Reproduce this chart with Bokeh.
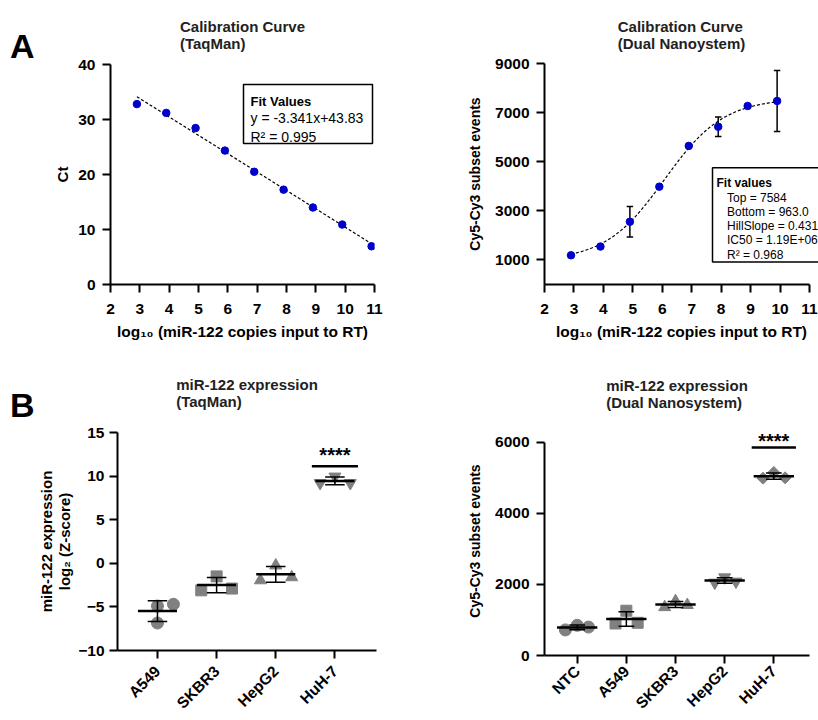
import numpy as np
from bokeh.plotting import figure
from bokeh.layouts import column, row
from bokeh.models import Label, BoxAnnotation, FixedTicker, ColumnDataSource, Title
from bokeh.embed import file_html
from bokeh.resources import INLINE

# ---------------- data ----------------
# Panel A (left): TaqMan calibration
taq_log_copies = [2.9, 3.9, 4.9, 5.9, 6.9, 7.9, 8.9, 9.9, 10.9]
taq_ct = [32.8, 31.2, 28.45, 24.35, 20.5, 17.25, 14.0, 10.9, 6.95]
taq_fit_slope = -3.341
taq_fit_intercept = 43.83
taq_fit_r2 = 0.995

# Panel A (right): Dual nanosystem calibration
nano_log_copies = [2.9, 3.9, 4.9, 5.9, 6.9, 7.9, 8.9, 9.9]
nano_events = [1190, 1545, 2555, 3985, 5645, 6425, 7270, 7475]
nano_sd = [0, 0, 620, 0, 0, 395, 0, 1245]
nano_fit_top = 7584
nano_fit_bottom = 963.0
nano_fit_hill = 0.431
nano_fit_ic50 = 1.19e6
nano_fit_r2 = 0.968

# Panel B (left): TaqMan expression, log2 Z-score, triplicates
taq_cells = ["A549", "SKBR3", "HepG2", "HuH-7"]
taq_z = [
    [-4.9, -4.7, -6.85],
    [-3.1, -1.5, -2.9],
    [-1.95, -0.25, -1.6],
    [9.2, 9.95, 9.2],
]

# Panel B (right): Dual nanosystem expression, events, triplicates
nano_cells = ["NTC", "A549", "SKBR3", "HepG2", "HuH-7"]
nano_cell_events = [
    [720, 850, 800],
    [900, 1260, 920],
    [1360, 1530, 1420],
    [2050, 2200, 2080],
    [4990, 5150, 5000],
]

# ---------------- style ----------------
FONT = "Liberation Sans"
BLUE = "#0000CD"
GRAY = "#808080"
TITLE_COLOR = "#222222"
TICK_SIZE = "15.5px"
CAT_SIZE = "15.5px"

taq_markers = ["circle", "square", "triangle", "inverted_triangle"]
taq_spread = [[0.0, 0.27, 0.0], [-0.26, 0.0, 0.26], [-0.26, 0.0, 0.27], [-0.25, 0.0, 0.26]]
taq_msize = [12, 11, 12, 12]
nano_markers = ["circle", "square", "triangle", "inverted_triangle", "square"]
nano_angles = [0, 0, 0, 0, np.pi / 4]
nano_msize = [12, 11, 12, 12, 8.5]
nano_spread = [[-0.24, 0.0, 0.23], [-0.22, 0.0, 0.23], [-0.22, 0.0, 0.24], [-0.2, 0.0, 0.23], [-0.22, 0.0, 0.23]]


def mapper(fx0, fx1, fy_top, fy_bot, x0, x1, y0, y1):
    def X(px):
        return x0 + (px - fx0) * (x1 - x0) / (fx1 - fx0)

    def Y(py):
        return y0 + (fy_bot - py) * (y1 - y0) / (fy_bot - fy_top)

    return X, Y


def style_axes(p, xlabel_size="15.5px", ylabel_size="15px"):
    for ax in p.axis:
        ax.axis_line_width = 2
        ax.axis_line_color = "black"
        ax.major_tick_line_width = 2
        ax.major_tick_line_color = "black"
        ax.major_tick_out = 8
        ax.major_tick_in = 0
        ax.minor_tick_line_color = None
        ax.major_label_text_font = FONT
        ax.major_label_text_font_style = "bold"
        ax.major_label_text_font_size = TICK_SIZE
        ax.major_label_text_color = "black"
        ax.axis_label_text_font = FONT
        ax.axis_label_text_font_style = "bold"
        ax.axis_label_text_color = "black"
    p.xaxis.axis_label_text_font_size = xlabel_size
    p.yaxis.axis_label_text_font_size = ylabel_size
    p.grid.visible = False
    p.outline_line_color = None


def make_fig(width, height, left, right, top, bottom, xr, yr):
    return figure(width=width, height=height, x_range=xr, y_range=yr,
                  output_backend="svg", toolbar_location=None, frame_align=False,
                  min_border_left=left, min_border_right=right,
                  min_border_top=top, min_border_bottom=bottom)


def add_title(p, text, gap):
    # spacer row next to the frame, then the two-line title above it
    p.add_layout(Title(text=" ", text_font_size="1px", standoff=gap), "above")
    p.add_layout(Title(text=text, align="center", text_font=FONT, text_font_size="15px",
                       text_font_style="bold", text_color=TITLE_COLOR, standoff=0), "above")


def add_text(p, x, y, text, size, bold=False, align="left", color="black"):
    p.add_layout(Label(x=x, y=y, text=text, text_font=FONT, text_font_size=size,
                       text_font_style="bold" if bold else "normal",
                       text_align=align, text_baseline="alphabetic", text_color=color))


def add_box(p, left, right, top, bottom):
    p.add_layout(BoxAnnotation(left=left, right=right, top=top, bottom=bottom,
                               fill_color="white", fill_alpha=1,
                               line_color="black", line_alpha=1, line_width=1.5))


def letter_fig(letter, x, baseline):
    p = figure(width=34, height=360, x_range=(0, 34), y_range=(360, 0),
               x_axis_type=None, y_axis_type=None, output_backend="svg",
               toolbar_location=None, min_border=0, frame_align=False)
    p.outline_line_color = None
    add_text(p, x, baseline, letter, "34px", bold=True)
    return p


# ================= Panel A left =================
p1 = make_fig(376, 360, 76, 36, 64, 76, (2, 11), (0, 40))
style_axes(p1)
p1.xaxis.ticker = FixedTicker(ticks=list(range(2, 12)))
p1.yaxis.ticker = FixedTicker(ticks=[0, 10, 20, 30, 40])
p1.xaxis.axis_label = "log₁₀ (miR-122 copies input to RT)"
p1.yaxis.axis_label = "Ct"
p1.xaxis.major_label_standoff = 11
p1.xaxis.axis_label_standoff = 6
p1.yaxis.major_label_standoff = 7
p1.yaxis.axis_label_standoff = 4
add_title(p1, "Calibration Curve\n(TaqMan)", 9.8)
X1, Y1 = mapper(110, 374, 64, 284, 2, 11, 0, 40)

fx = np.linspace(min(taq_log_copies), max(taq_log_copies), 50)
p1.line(fx, taq_fit_slope * fx + taq_fit_intercept, line_color="black", line_width=1.2, line_dash="3 2")
p1.scatter(taq_log_copies, taq_ct, size=7.5, color=BLUE)

add_box(p1, X1(243), X1(372), Y1(84), Y1(143))
add_text(p1, X1(250), Y1(100.7), "Fit Values", "13px", bold=True)
add_text(p1, X1(250), Y1(117.3), "y = %.3fx+%.2f" % (taq_fit_slope, taq_fit_intercept), "14px")
add_text(p1, X1(250), Y1(136.5), "R² = %.3f" % taq_fit_r2, "14px")

# ================= Panel A right =================
X2, Y2 = mapper(544, 809, 63, 283.5, 2, 11, 0, 9000)
p2 = make_fig(408, 360, 134, 0, 63, 76, (2, X2(818)), (0, 9000))
style_axes(p2, ylabel_size="14px")
p2.xaxis.ticker = FixedTicker(ticks=list(range(2, 12)))
p2.xaxis.bounds = (2, 11)
p2.yaxis.ticker = FixedTicker(ticks=[1000, 3000, 5000, 7000, 9000])
p2.xaxis.axis_label = "log₁₀ (miR-122 copies input to RT)"
p2.yaxis.axis_label = "Cy5-Cy3 subset events"
p2.xaxis.major_label_standoff = 11
p2.xaxis.axis_label_standoff = 6
p2.yaxis.major_label_standoff = 7
p2.yaxis.axis_label_standoff = 9
add_title(p2, "Calibration Curve\n(Dual Nanoystem)", 9.3)

sx = np.linspace(min(nano_log_copies), max(nano_log_copies), 200)
sy = nano_fit_bottom + (nano_fit_top - nano_fit_bottom) / (1 + 10 ** ((np.log10(nano_fit_ic50) - sx) * nano_fit_hill))
p2.line(sx, sy, line_color="black", line_width=1.2, line_dash="3 2")

ex = [x for x, s in zip(nano_log_copies, nano_sd) if s > 0]
ey = [y for y, s in zip(nano_events, nano_sd) if s > 0]
es = [s for s in nano_sd if s > 0]
elo = [y - s for y, s in zip(ey, es)]
ehi = [y + s for y, s in zip(ey, es)]
cap2 = 0.11
p2.segment(ex, elo, ex, ehi, line_color="black", line_width=1.5)
p2.segment([x - cap2 for x in ex], elo, [x + cap2 for x in ex], elo, line_color="black", line_width=1.5)
p2.segment([x - cap2 for x in ex], ehi, [x + cap2 for x in ex], ehi, line_color="black", line_width=1.5)
p2.scatter(nano_log_copies, nano_events, size=7.5, color=BLUE)

add_box(p2, X2(712), X2(840), Y2(167), Y2(261))
add_text(p2, X2(716), Y2(182.7), "Fit values", "12px", bold=True)
add_text(p2, X2(726.5), Y2(196.7), "Top = %d" % nano_fit_top, "12px")
add_text(p2, X2(726.5), Y2(211), "Bottom = %.1f" % nano_fit_bottom, "12px")
add_text(p2, X2(726.5), Y2(225.2), "HillSlope = %.3f" % nano_fit_hill, "12px")
add_text(p2, X2(726.5), Y2(239.5), "IC50 = %.2E" % nano_fit_ic50, "12px")
add_text(p2, X2(726.5), Y2(254), "R² = %.3f" % nano_fit_r2, "12px")


# ================= Panel B helpers =================
def dot_plot(p, groups, spread, markers, sizes, angles, mean_half, cap_half):
    for i, vals in enumerate(groups):
        pos = i + 1
        xs = [pos + o for o in spread[i]]
        p.scatter(xs, vals, marker=markers[i], size=sizes[i], angle=angles[i],
                  fill_color=GRAY, line_color=GRAY)
    means = [float(np.mean(v)) for v in groups]
    sds = [float(np.std(v, ddof=1)) for v in groups]
    pos = [i + 1 for i in range(len(groups))]
    src = ColumnDataSource(dict(
        x=pos, m=means, lo=[m - s for m, s in zip(means, sds)], hi=[m + s for m, s in zip(means, sds)],
        ml=[x - mean_half for x in pos], mr=[x + mean_half for x in pos],
        cl=[x - cap_half for x in pos], cr=[x + cap_half for x in pos]))
    p.segment("x", "lo", "x", "hi", source=src, line_color="black", line_width=1.5)
    p.segment("cl", "lo", "cr", "lo", source=src, line_color="black", line_width=1.5)
    p.segment("cl", "hi", "cr", "hi", source=src, line_color="black", line_width=1.5)
    p.segment("ml", "m", "mr", "m", source=src, line_color="black", line_width=2.5)


# ================= Panel B left =================
X3, Y3 = mapper(110, 376, 432.3, 652.3, 0.3245, 4.703, -10, 15)
p3 = make_fig(376, 360, 76, 34, 72, 68, (0.3245, 4.703), (-10, 15))
style_axes(p3)
p3.xaxis.ticker = FixedTicker(ticks=[1, 2, 3, 4])
p3.xaxis.major_label_overrides = {i + 1: c for i, c in enumerate(taq_cells)}
p3.xaxis.major_label_orientation = np.pi / 4
p3.xaxis.major_label_text_font_size = CAT_SIZE
p3.xaxis.major_label_standoff = 10
p3.yaxis.ticker = FixedTicker(ticks=[-10, -5, 0, 5, 10, 15])
p3.yaxis.axis_label = "miR-122 expression\nlog₂ (Z-score)"
p3.yaxis.axis_label_text_line_height = 1.1
p3.yaxis.major_label_standoff = 5
p3.yaxis.axis_label_standoff = 2
add_title(p3, "miR-122 expression\n(TaqMan)", 19.6)
dot_plot(p3, taq_z, taq_spread, taq_markers, taq_msize, [0, 0, 0, 0], 0.33, 0.165)
p3.segment([4 - 0.39], [Y3(466.3)], [4 + 0.39], [Y3(466.3)], line_color="black", line_width=2.5)
add_text(p3, 4, Y3(455), "****", "20px", bold=True, align="center")

# ================= Panel B right =================
X4, Y4 = mapper(544, 809, 442.3, 662.7, 0.335, 5.726, 0, 6000)
p4 = make_fig(408, 360, 134, 9, 66, 57, (0.335, 5.726), (0, Y4(426)))
style_axes(p4, ylabel_size="14px")
p4.xaxis.ticker = FixedTicker(ticks=[1, 2, 3, 4, 5])
p4.xaxis.major_label_overrides = {i + 1: c for i, c in enumerate(nano_cells)}
p4.xaxis.major_label_orientation = np.pi / 4
p4.xaxis.major_label_text_font_size = CAT_SIZE
p4.xaxis.major_label_standoff = 5
p4.yaxis.ticker = FixedTicker(ticks=[0, 2000, 4000, 6000])
p4.yaxis.bounds = (0, 6000)
p4.yaxis.axis_label = "Cy5-Cy3 subset events"
p4.yaxis.major_label_standoff = 7
p4.yaxis.axis_label_standoff = 9
add_title(p4, "miR-122 expression\n(Dual Nanosystem)", 12.8)
dot_plot(p4, nano_cell_events, nano_spread, nano_markers, nano_msize, nano_angles, 0.41, 0.16)
p4.segment([5 - 0.45], [Y4(447.7)], [5 + 0.45], [Y4(447.7)], line_color="black", line_width=2.5)
add_text(p4, 5, Y4(441), "****", "20px", bold=True, align="center")

la = letter_fig("A", 9.5, 45)
lb = letter_fig("B", 9.5, 44)

layout = column(row(la, p1, p2), row(lb, p3, p4))
open("out.html", "w").write(file_html(layout, INLINE, "miR-122"))
